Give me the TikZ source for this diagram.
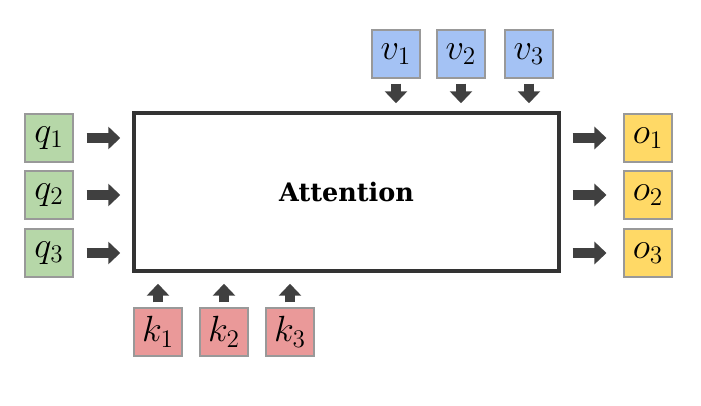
\documentclass[tikz,border=0pt]{standalone}
\usepackage{fontspec}
\newfontfamily\slabfont{DejaVu Serif}
\usetikzlibrary{arrows.meta}

\begin{document}
\begin{tikzpicture}[x=0.02cm, y=-0.02cm,
  token/.style={rectangle, draw=black!40, line width=0.6pt, minimum size=0.96cm, inner sep=0pt, font=\fontsize{22}{26}\selectfont},
  fat arrow/.style={draw=black!75, line width=0.2cm, -{Triangle[length=0.24cm, width=0.44cm]}}]

    \definecolor{verde_q}{HTML}{B6D7A8}
    \definecolor{azul_v}{HTML}{A4C2F4}
    \definecolor{rojo_k}{HTML}{EA9999}
    \definecolor{amarillo_o}{HTML}{FFD966}

  \useasboundingbox (0,0) rectangle (701,406);

  % The attention block

  \node [rectangle, draw=black!80, line width=2pt, minimum width=8.5cm, minimum height=3.16cm,
         font=\slabfont\bfseries\fontsize{14.5}{17}\selectfont] (attn) at (346.5,192) {Attention};

  % Queries on the left

  \node [token, fill=verde_q] (q1) at (49,138) {$q_1$};
  \node [token, fill=verde_q] (q2) at (49,195) {$q_2$};
  \node [token, fill=verde_q] (q3) at (49,253) {$q_3$};

  % Values on top

  \node [token, fill=azul_v] (v1) at (396,54) {$v_1$};
  \node [token, fill=azul_v] (v2) at (461,54) {$v_2$};
  \node [token, fill=azul_v] (v3) at (529,54) {$v_3$};

  % Keys below

  \node [token, fill=rojo_k] (k1) at (158,332) {$k_1$};
  \node [token, fill=rojo_k] (k2) at (224,332) {$k_2$};
  \node [token, fill=rojo_k] (k3) at (290,332) {$k_3$};

  % Outputs on the right

  \node [token, fill=amarillo_o] (o1) at (648,138) {$o_1$};
  \node [token, fill=amarillo_o] (o2) at (648,195) {$o_2$};
  \node [token, fill=amarillo_o] (o3) at (648,253) {$o_3$};

  % Arrows into and out of the block

    \draw [fat arrow, shorten <=0.26cm, shorten >=0.24cm] (q1.east) -- (q1.east -| attn.west);
    \draw [fat arrow, shorten <=0.26cm, shorten >=0.24cm] (q2.east) -- (q2.east -| attn.west);
    \draw [fat arrow, shorten <=0.26cm, shorten >=0.24cm] (q3.east) -- (q3.east -| attn.west);

    \draw [fat arrow, shorten <=0.1cm, shorten >=0.16cm] (v1.south) -- (v1.south |- attn.north);
    \draw [fat arrow, shorten <=0.1cm, shorten >=0.16cm] (v2.south) -- (v2.south |- attn.north);
    \draw [fat arrow, shorten <=0.1cm, shorten >=0.16cm] (v3.south) -- (v3.south |- attn.north);

    \draw [fat arrow, shorten <=0.1cm, shorten >=0.22cm] (k1.north) -- (k1.north |- attn.south);
    \draw [fat arrow, shorten <=0.1cm, shorten >=0.22cm] (k2.north) -- (k2.north |- attn.south);
    \draw [fat arrow, shorten <=0.1cm, shorten >=0.22cm] (k3.north) -- (k3.north |- attn.south);

    \draw [fat arrow, shorten <=0.24cm, shorten >=0.34cm] (o1.west -| attn.east) -- (o1.west);
    \draw [fat arrow, shorten <=0.24cm, shorten >=0.34cm] (o2.west -| attn.east) -- (o2.west);
    \draw [fat arrow, shorten <=0.24cm, shorten >=0.34cm] (o3.west -| attn.east) -- (o3.west);

\end{tikzpicture}
\end{document}
